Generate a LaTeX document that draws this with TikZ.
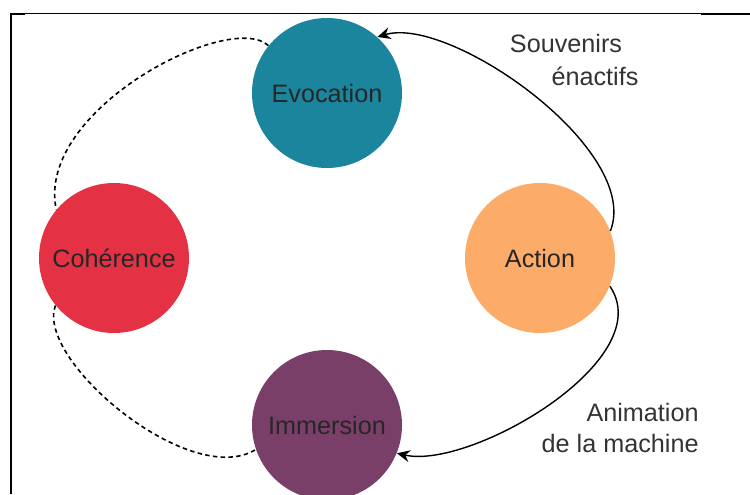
\documentclass[tikz,border=0pt]{standalone}
\usepackage{fontspec}
\setmainfont{Liberation Sans}
\usepackage{tikz}
\usetikzlibrary{positioning, arrows.meta}

\definecolor{evocol}{RGB}{27,133,157}
\definecolor{cohcol}{RGB}{229,49,68}
\definecolor{actcol}{RGB}{253,171,104}
\definecolor{immcol}{RGB}{122,63,105}

\begin{document}
\begin{tikzpicture}[x=0.5pt, y=-0.5pt,
    phase/.style={circle, minimum size=75pt, inner sep=0pt, text=black!85},
    link/.style={line width=0.7pt, -{Stealth[length=6.5pt, width=6pt, inset=2.2pt]}},
    loose/.style={line width=0.8pt, dash pattern=on 2.2pt off 1.7pt},
    lbl/.style={text=black!80, inner sep=0pt},
    font=\fontsize{12.6}{15.5}\selectfont]
    \useasboundingbox (0,0) rectangle (750,494);
    \clip (0,0) rectangle (750,494);
    % frame
    \draw[line width=1pt] (11,494) -- (11,13.5);
    \draw[line width=0.5pt] (11,13.5) -- (750,13.5);
    \draw[line width=1pt] (10,14) -- (25,14);
    \draw[line width=1pt] (701,14) -- (750,14);
    % phases
    \node[phase, fill=evocol] (evocation) at (327,93) {Evocation};
    \node[phase, fill=cohcol] (coherence) at (114,258) {Cohérence};
    \node[phase, fill=actcol] (action) at (540,258) {Action};
    \node[phase, fill=immcol] (immersion) at (327,425) {Immersion};
    % links
    \draw[link] (action.21) .. controls (642,150) and (450,15) .. (evocation.48);
    \draw[link] (action.-22) .. controls (660,360) and (470,470) .. (immersion.-22);
    \draw[loose] (evocation.141) .. controls (230,10) and (35,110) .. (coherence.140);
    \draw[loose] (coherence.-141) .. controls (35,360) and (190,490) .. (immersion.-161);
    % labels
    \node[lbl] (souvenirs) at (566,43) {Souvenirs};
    \node[lbl] (enactifs) at (595,76) {énactifs};
    \node[lbl, align=right, anchor=east] (animation) at (699,428) {Animation\\de la machine};
\end{tikzpicture}
\end{document}
